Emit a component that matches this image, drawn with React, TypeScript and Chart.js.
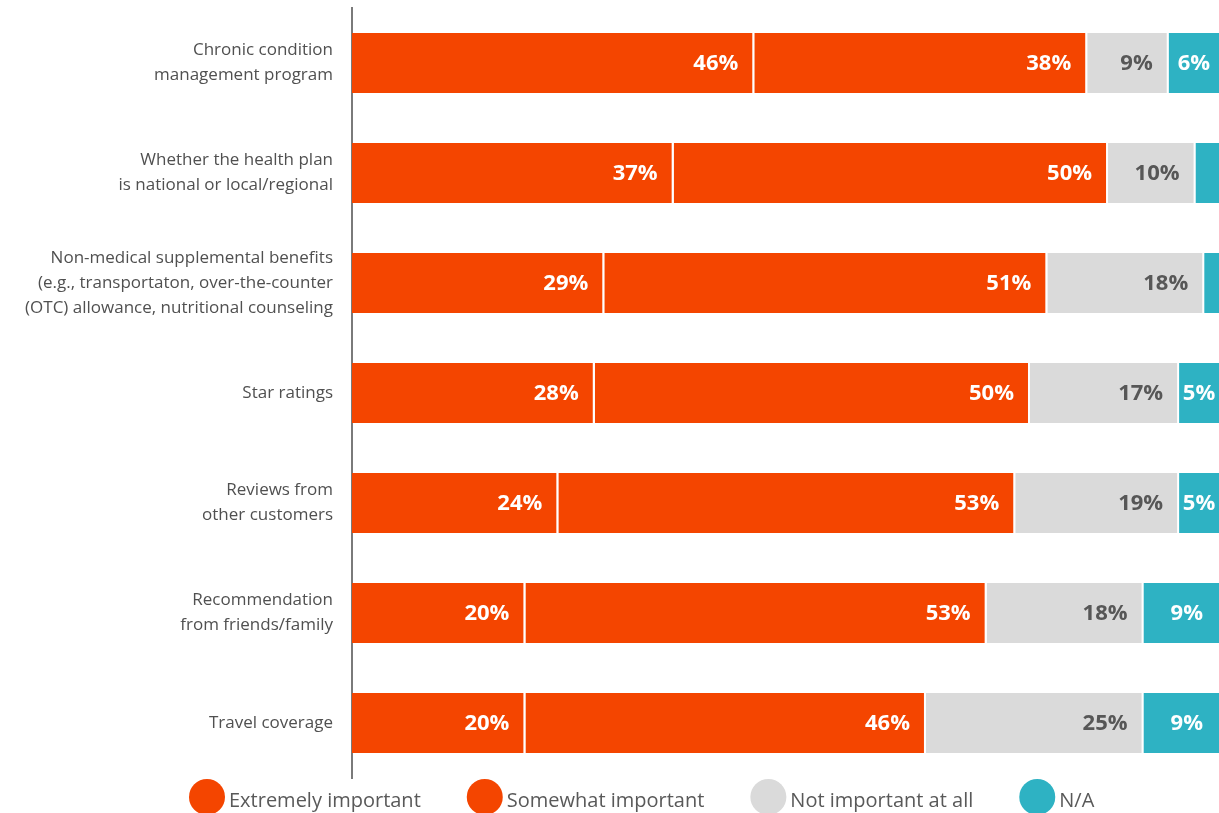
import React, { useEffect, useRef } from "react";
import { Chart, registerables } from "chart.js";

Chart.register(...registerables);

const categories: string[][] = [
  ["Chronic condition", "management program"],
  ["Whether the health plan", "is national or local/regional"],
  ["Non-medical supplemental benefits", "(e.g., transportaton, over-the-counter", "(OTC) allowance, nutritional counseling"],
  ["Star ratings"],
  ["Reviews from", "other customers"],
  ["Recommendation", "from friends/family"],
  ["Travel coverage"],
];

const seriesNames = ["Extremely important", "Somewhat important", "Not important at all", "N/A"];

const extremelyImportant = [46.4, 37.1, 29.1, 28.0, 23.8, 20.0, 20.0];
const somewhatImportant = [38.4, 50.1, 51.1, 50.2, 52.7, 53.2, 46.2];
const notImportant = [9.4, 10.1, 18.1, 17.2, 18.9, 18.1, 25.1];
const notApplicable = [5.8, 2.7, 1.7, 4.6, 4.6, 8.7, 8.7];

const colors = ["#F44500", "#F44500", "#DADADA", "#2EB2C3"];
const labelColors = ["#FFFFFF", "#FFFFFF", "#575757", "#FFFFFF"];

const FONT = "'Open Sans', 'Noto Sans', sans-serif";

const dataLabelPlugin = {
  id: "segLabels",
  afterDatasetsDraw(chart: any) {
    const ctx = chart.ctx;
    ctx.save();
    ctx.font = `bold 22px ${FONT}`;
    ctx.textBaseline = "middle";
    chart.data.datasets.forEach((ds: any, di: number) => {
      const meta = chart.getDatasetMeta(di);
      meta.data.forEach((bar: any, i: number) => {
        const v = ds.data[i];
        if (v < 4) return;
        const text = Math.round(v) + "%";
        const tw = ctx.measureText(text).width;
        const left = Math.min(bar.base, bar.x);
        const right = Math.max(bar.base, bar.x);
        const w = right - left;
        ctx.fillStyle = labelColors[di];
        let x: number;
        if (tw + 16 + 4 > w) {
          ctx.textAlign = "center";
          x = left + w / 2;
        } else {
          ctx.textAlign = "right";
          x = right - 16;
        }
        ctx.fillText(text, x, bar.y + 1);
      });
    });
    ctx.restore();
  },
};

const legendPlugin = {
  id: "customLegend",
  afterDraw(chart: any) {
    const ctx = chart.ctx;
    ctx.save();
    ctx.font = `20px ${FONT}`;
    ctx.textBaseline = "alphabetic";
    ctx.textAlign = "left";
    const r = 18;
    const cy = 797;
    let x = 189;
    seriesNames.forEach((name, i) => {
      ctx.fillStyle = colors[i];
      ctx.beginPath();
      ctx.arc(x + r, cy, r, 0, Math.PI * 2);
      ctx.fill();
      x += 2 * r + 4;
      ctx.fillStyle = "#595959";
      ctx.fillText(name, x, 807);
      x += ctx.measureText(name).width + 46;
    });
    ctx.restore();
  },
};

export default function App() {
  const ref = useRef<HTMLCanvasElement | null>(null);

  useEffect(() => {
    document.body.style.margin = "0";
    document.body.style.overflow = "hidden";
    if (!ref.current) return;
    const seriesValues = [extremelyImportant, somewhatImportant, notImportant, notApplicable];
    const chart = new Chart(ref.current, {
      type: "bar",
      data: {
        labels: categories as any,
        datasets: seriesValues.map((vals, i) => ({
          label: seriesNames[i],
          data: vals,
          backgroundColor: colors[i],
          borderColor: "#FFFFFF",
          borderWidth: { top: 0, bottom: 0, left: 0, right: i === seriesValues.length - 1 ? 0 : 2 },
          borderSkipped: false,
          barPercentage: 0.545,
          categoryPercentage: 1,
        })),
      },
      options: {
        indexAxis: "y",
        animation: false,
        responsive: false,
        layout: { padding: { top: 8, bottom: 35, left: 0, right: 0 } },
        plugins: {
          legend: { display: false },
          tooltip: { enabled: false },
        },
        scales: {
          x: { stacked: true, min: 0, max: 100, display: false },
          y: {
            stacked: true,
            grid: { display: false, drawTicks: false },
            border: { display: true, color: "#7A7A7A", width: 2 },
            ticks: {
              color: "#505050",
              font: { family: FONT, size: 17, lineHeight: 1.47 },
              padding: 19,
            },
            afterFit(scale: any) {
              scale.width = 352;
              scale.paddingTop = 0;
              scale.paddingBottom = 0;
            },
          },
        },
      } as any,
      plugins: [dataLabelPlugin, legendPlugin],
    });
    return () => chart.destroy();
  }, []);

  return (
    <div style={{ width: 1219, height: 813, overflow: "hidden" }}>
      <canvas ref={ref} width={1219} height={813} />
    </div>
  );
}
